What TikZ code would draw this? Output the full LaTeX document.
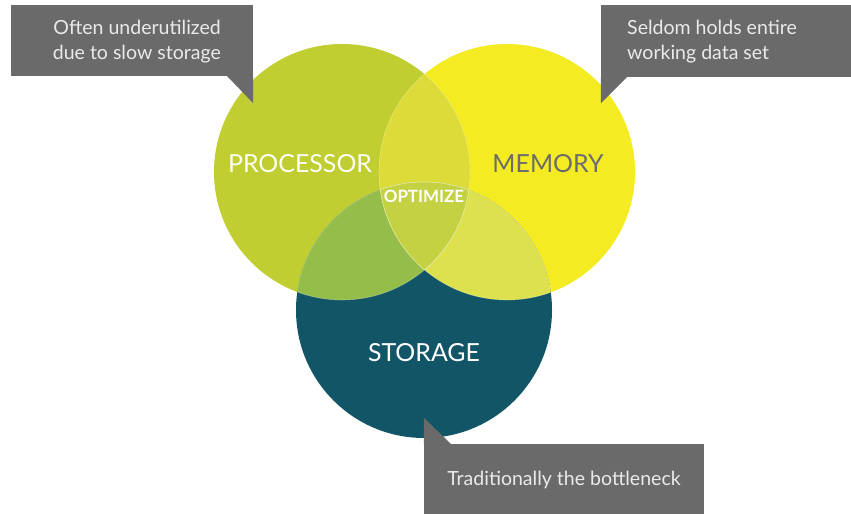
\documentclass[tikz,border=0pt]{standalone}
\usepackage{fontspec}
\setmainfont{Lato}
\usepackage{xcolor}
\definecolor{procgreen}{RGB}{192,206,50}
\definecolor{memyellow}{RGB}{244,235,35}
\definecolor{storteal}{RGB}{17,85,103}
\definecolor{pmcol}{RGB}{220,219,58}
\definecolor{pscol}{RGB}{148,189,74}
\definecolor{mscol}{RGB}{221,225,77}
\definecolor{allcol}{RGB}{195,209,67}
\definecolor{boxgray}{RGB}{105,106,105}
\definecolor{boxtext}{RGB}{234,234,234}
\definecolor{memtext}{RGB}{108,108,108}

\newcommand\proccirc{(342,172) circle[radius=128bp]}
\newcommand\memcirc{(507,172) circle[radius=128bp]}
\newcommand\storcirc{(424,310) circle[radius=128bp]}

\begin{document}
\begin{tikzpicture}[x=1bp,y=-1bp,
  callbox/.style={fill=boxgray, inner sep=0pt},
  calltext/.style={text=boxtext, inner sep=0pt, font=\fontsize{19.6}{25}\selectfont},
  bigword/.style={inner sep=0pt, font=\fontsize{25}{28}\selectfont},
  seam/.style={white, opacity=0.3, line width=0.6bp}]
\useasboundingbox (0,0) rectangle (851,514);

%Kreise
\fill[procgreen] \proccirc;
\fill[memyellow] \memcirc;
\fill[storteal] \storcirc;

%Schnittflaechen
\begin{scope}
\clip \proccirc; \fill[pmcol] \memcirc;
\end{scope}
\begin{scope}
\clip \proccirc; \fill[pscol] \storcirc;
\end{scope}
\begin{scope}
\clip \memcirc; \fill[mscol] \storcirc;
\end{scope}
\begin{scope}
\clip \proccirc; \clip \memcirc; \fill[allcol] \storcirc;
\end{scope}

%feine Raender innen
\foreach \ax/\ay/\bx/\by in {342/172/507/172, 507/172/342/172, 342/172/424/310,
  424/310/342/172, 507/172/424/310, 424/310/507/172}{
  \begin{scope}
  \clip (\bx,\by) circle[radius=128bp];
  \draw[seam] (\ax,\ay) circle[radius=128bp];
  \end{scope}
}

%Beschriftung der Kreise
\node[bigword, text=white!95!procgreen] (proc) at (300,164) {PROCESSOR};
\node[bigword, text=memtext] (mem) at (548,164) {MEMORY};
\node[bigword, text=white] (stor) at (424,353) {STORAGE};
\node[inner sep=0pt, text=white, font=\fontsize{17}{19}\selectfont\bfseries] (opt) at (424,196) {OPTIMIZE};

%Sprechblase links oben
\node[callbox, minimum width=242bp, minimum height=71bp] (slowbox) at (132,40.5) {};
\fill[boxgray] (slowbox.south east) -- ++(0,27) -- ++(-26,-27) -- cycle;
\node[calltext, align=right, anchor=east] (slowtxt) at (221,42) {Often underutilized\\due to slow storage};

%Sprechblase rechts oben
\node[callbox, minimum width=250bp, minimum height=72bp] (setbox) at (726,41) {};
\fill[boxgray] (setbox.south west) -- ++(0,26) -- ++(26,-26) -- cycle;
\node[calltext, align=left, anchor=west] (settxt) at (627,42) {Seldom holds entire\\working data set};

%Sprechblase unten
\node[callbox, minimum width=280bp, minimum height=70bp] (neckbox) at (564,479) {};
\fill[boxgray] (neckbox.north west) -- ++(0,-26) -- ++(27,26) -- cycle;
\node[calltext] (necktxt) at (564,480) {Traditionally the bottleneck};

\end{tikzpicture}
\end{document}
